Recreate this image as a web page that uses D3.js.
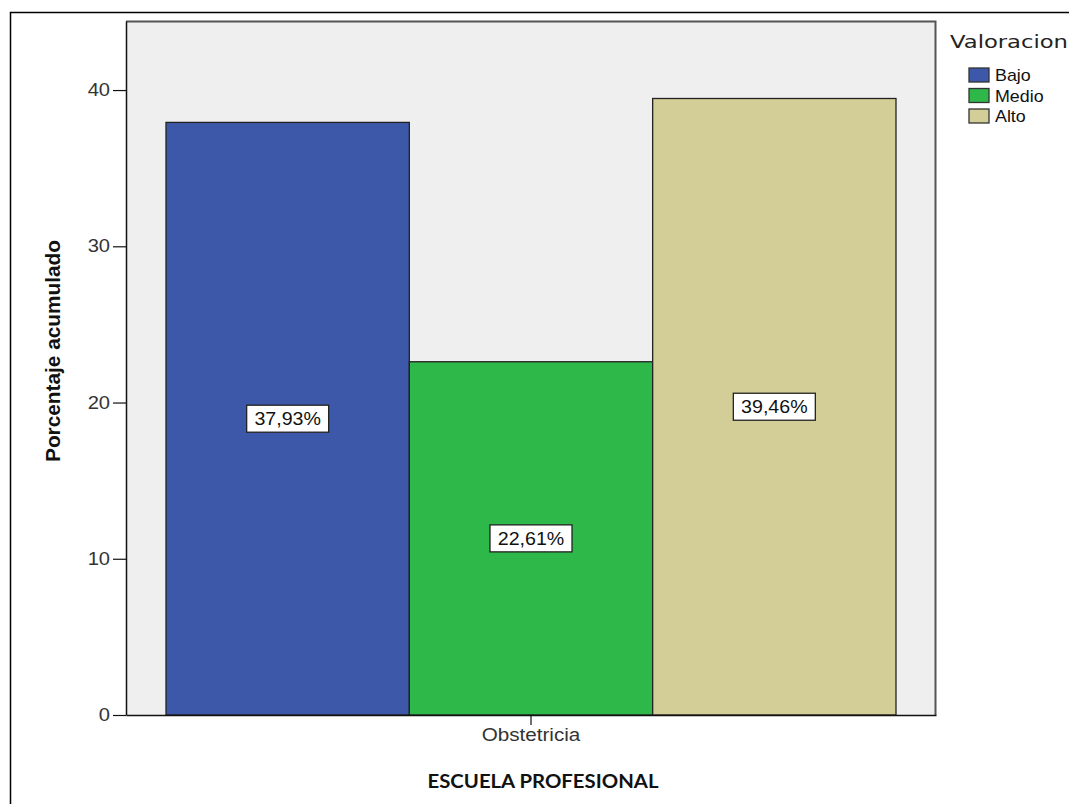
<!DOCTYPE html>
<html>
<head>
<meta charset="utf-8">
<script src="https://cdn.jsdelivr.net/npm/d3@7"></script>
<style>
  html, body { margin: 0; padding: 0; background: #ffffff; }
  svg { display: block; }
</style>
</head>
<body>
<svg id="chart" width="1069" height="804"></svg>
<script>
// ---- data ----
const categories = ["Obstetricia"];
const seriesNames = ["Bajo", "Medio", "Alto"];
const seriesValues = [37.93, 22.61, 39.46];
const valueLabels = ["37,93%", "22,61%", "39,46%"];
const seriesColors = ["#3e58a9", "#2eb84a", "#d3ce97"];
const yTicks = [0, 10, 20, 30, 40];
const yTitle = "Porcentaje acumulado";
const xTitle = "ESCUELA PROFESIONAL";
const legendTitle = "Valoracion";

const svg = d3.select("#chart");
const FONT = "Liberation Sans, Arial, sans-serif";

function stretch(sel, f) {
  sel.each(function () {
    const w = this.getComputedTextLength();
    d3.select(this).attr("textLength", w * f).attr("lengthAdjust", "spacingAndGlyphs");
  });
}

// outer frame (extends past the picture on right and bottom)
svg.append("rect")
  .attr("x", 10.5).attr("y", 12.5)
  .attr("width", 1100).attr("height", 900)
  .attr("fill", "none").attr("stroke", "#000").attr("stroke-width", 1.5);

const plot = { left: 126, top: 21, right: 936, bottom: 715 };

const y = d3.scaleLinear().domain([0, 44.42]).range([plot.bottom, plot.top]);
const x = d3.scaleBand().domain(categories).range([plot.left, plot.right]).paddingOuter(0.0548).paddingInner(0);
const xs = d3.scaleBand().domain(seriesNames).range([0, x.bandwidth()]);

// plot background
svg.append("rect")
  .attr("x", plot.left).attr("y", plot.top)
  .attr("width", plot.right - plot.left).attr("height", plot.bottom - plot.top)
  .attr("fill", "#efefef");
// top and right frame (grey)
svg.append("path")
  .attr("d", `M${plot.left},${plot.top + 0.5}H${plot.right - 0.5}V${plot.bottom}`)
  .attr("fill", "none").attr("stroke", "#555").attr("stroke-width", 2);

// bars
const data = seriesNames.map((s, i) => ({ cat: categories[0], s, v: seriesValues[i], label: valueLabels[i], color: seriesColors[i] }));
const g = svg.append("g");
g.selectAll("rect.bar").data(data).enter().append("rect")
  .attr("class", "bar")
  .attr("x", d => x(d.cat) + xs(d.s))
  .attr("y", d => y(d.v))
  .attr("width", xs.bandwidth())
  .attr("height", d => y(0) - y(d.v))
  .attr("fill", d => d.color)
  .attr("stroke", "#222").attr("stroke-width", 1.3);

// value labels in boxes
const lab = g.selectAll("g.lab").data(data).enter().append("g").attr("class", "lab")
  .attr("transform", d => `translate(${x(d.cat) + xs(d.s) + xs.bandwidth() / 2},${y(d.v / 2)})`);
lab.append("rect")
  .attr("x", -41).attr("y", -13.5).attr("width", 82).attr("height", 27)
  .attr("fill", "#fff").attr("stroke", "#222").attr("stroke-width", 1.3);
lab.append("text")
  .attr("text-anchor", "middle").attr("dy", "0.36em")
  .attr("font-family", FONT).attr("font-size", 17.5)
  .attr("fill", "#111")
  .text(d => d.label)
  .call(stretch, 1.12);

// y axis
const yAxis = d3.axisLeft(y).tickValues(yTicks).tickSize(13).tickPadding(3).tickSizeOuter(0);
const ya = svg.append("g").attr("transform", `translate(${plot.left},0)`).call(yAxis);
ya.select(".domain").attr("stroke", "#111").attr("stroke-width", 1.5);
ya.selectAll(".tick line").attr("stroke", "#111").attr("stroke-width", 1.2);
ya.selectAll(".tick text").attr("font-family", FONT)
  .attr("font-size", 17.5).attr("fill", "#333")
  .call(stretch, 1.15);

// x axis
const xAxis = d3.axisBottom(x).tickSize(10).tickPadding(4).tickSizeOuter(0);
const xa = svg.append("g").attr("transform", `translate(0,${plot.bottom})`).call(xAxis);
xa.select(".domain").attr("stroke", "#111").attr("stroke-width", 1.5);
xa.selectAll(".tick line").attr("stroke", "#111").attr("stroke-width", 1.2);
xa.selectAll(".tick text").attr("font-family", FONT)
  .attr("font-size", 17.5).attr("fill", "#333")
  .call(stretch, 1.18);

// axis titles
svg.append("text")
  .attr("transform", `translate(60,351) rotate(-90)`)
  .attr("text-anchor", "middle")
  .attr("font-family", FONT).attr("font-weight", "bold")
  .attr("font-size", 20).attr("fill", "#111")
  .attr("textLength", 222).attr("lengthAdjust", "spacingAndGlyphs")
  .text(yTitle);

svg.append("text")
  .attr("x", 543).attr("y", 788)
  .attr("text-anchor", "middle")
  .attr("font-family", "Lato, Open Sans, sans-serif").attr("font-weight", "bold")
  .attr("font-size", 18).attr("fill", "#111")
  .attr("textLength", 231).attr("lengthAdjust", "spacingAndGlyphs")
  .text(xTitle);

// legend
svg.append("text")
  .attr("x", 950).attr("y", 48)
  .attr("font-family", "DejaVu Sans, sans-serif")
  .attr("font-size", 17).attr("fill", "#222")
  .attr("textLength", 118).attr("lengthAdjust", "spacingAndGlyphs")
  .text(legendTitle);
const leg = svg.selectAll("g.leg").data(data).enter().append("g").attr("class", "leg")
  .attr("transform", (d, i) => `translate(969,${68 + i * 20.5})`);
leg.append("rect").attr("width", 20).attr("height", 14)
  .attr("fill", d => d.color).attr("stroke", "#333").attr("stroke-width", 1.3);
leg.append("text").attr("x", 26).attr("y", 7).attr("dy", "0.36em")
  .attr("font-family", FONT).attr("font-size", 17).attr("fill", "#111")
  .text(d => d.s)
  .call(stretch, 1.05);
</script>
</body>
</html>
